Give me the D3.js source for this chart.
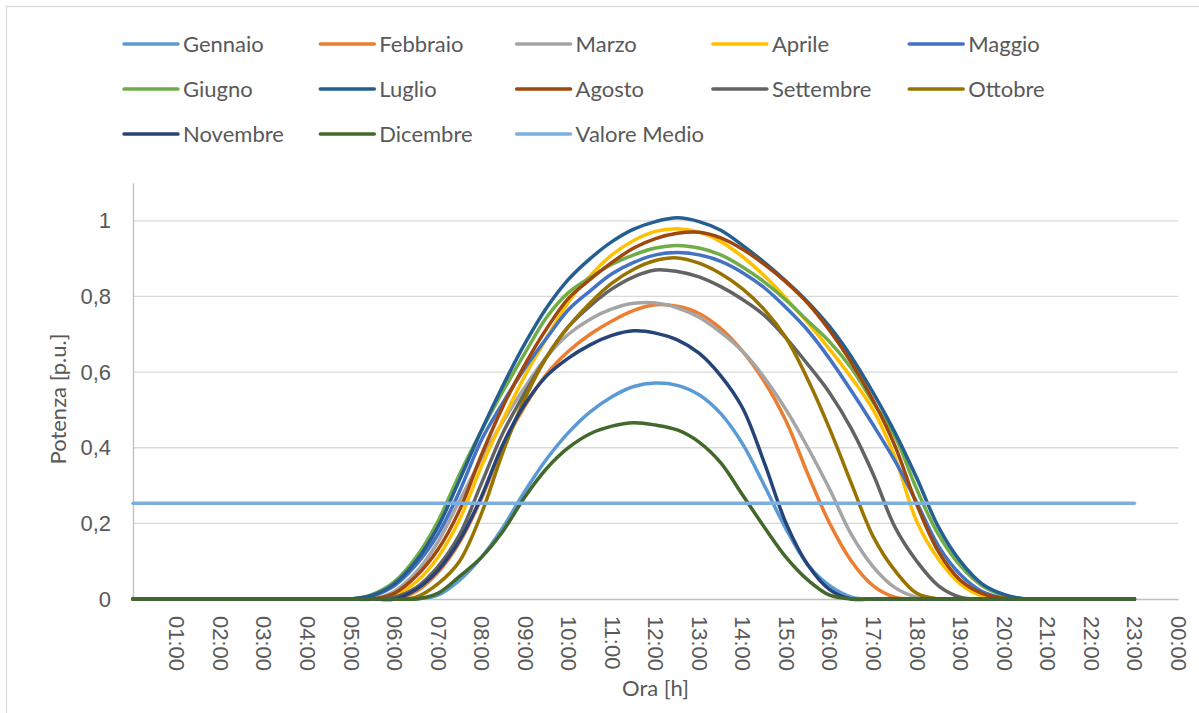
<!DOCTYPE html>
<html>
<head>
<meta charset="utf-8">
<script src="https://cdnjs.cloudflare.com/ajax/libs/d3/7.8.5/d3.min.js"></script>
<style>
  body { margin: 0; background: #fff; }
  svg { font-family: Lato, "Open Sans", sans-serif; }
</style>
</head>
<body>
<div id="chart"></div>
<script>
// ore del giorno (campioni)
var hours = [0, 4.5, 5, 5.5, 6, 6.5, 7, 7.5, 8, 8.5, 9, 9.5, 10, 10.5, 11, 11.5, 12, 12.5,
             13, 13.5, 14, 14.5, 15, 15.5, 16, 16.5, 17, 17.5, 18, 18.5, 19, 19.5, 20, 20.5, 21, 23];

var gennaio   = [0,0,0,0,0,0,0.01,0.05,0.11,0.19,0.285,0.37,0.44,0.495,0.535,0.562,0.571,0.565,0.54,0.49,0.41,0.3,0.185,0.09,0.035,0.005,0,0,0,0,0,0,0,0,0,0];
var febbraio  = [0,0,0,0,0,0.02,0.07,0.15,0.265,0.405,0.51,0.595,0.655,0.70,0.735,0.763,0.778,0.774,0.755,0.715,0.655,0.575,0.47,0.33,0.2,0.1,0.035,0.005,0,0,0,0,0,0,0,0];
var marzo     = [0,0,0,0,0.02,0.07,0.15,0.26,0.37,0.47,0.56,0.64,0.70,0.74,0.767,0.782,0.783,0.77,0.745,0.705,0.655,0.585,0.5,0.4,0.29,0.17,0.085,0.03,0.005,0,0,0,0,0,0,0];
var aprile    = [0,0,0,0,0.01,0.045,0.11,0.21,0.35,0.475,0.59,0.69,0.785,0.855,0.91,0.948,0.972,0.979,0.97,0.945,0.905,0.855,0.795,0.73,0.66,0.585,0.50,0.375,0.205,0.105,0.04,0.008,0,0,0,0];
var maggio    = [0,0,0,0.008,0.035,0.09,0.17,0.285,0.42,0.52,0.61,0.69,0.765,0.815,0.86,0.89,0.91,0.916,0.91,0.893,0.863,0.823,0.77,0.71,0.635,0.55,0.46,0.365,0.255,0.14,0.065,0.02,0.003,0,0,0];
var giugno    = [0,0,0,0.012,0.045,0.11,0.205,0.33,0.445,0.55,0.65,0.745,0.81,0.85,0.885,0.91,0.928,0.935,0.928,0.91,0.878,0.838,0.79,0.735,0.68,0.61,0.52,0.43,0.29,0.17,0.088,0.035,0.01,0,0,0];
var luglio    = [0,0,0,0.01,0.04,0.1,0.19,0.315,0.445,0.565,0.675,0.77,0.845,0.9,0.945,0.978,0.998,1.008,0.998,0.975,0.935,0.89,0.84,0.785,0.72,0.64,0.545,0.44,0.32,0.19,0.1,0.04,0.012,0,0,0];
var agosto    = [0,0,0,0,0.015,0.06,0.13,0.235,0.38,0.51,0.62,0.715,0.795,0.845,0.89,0.928,0.953,0.967,0.97,0.955,0.925,0.885,0.838,0.782,0.71,0.625,0.525,0.405,0.25,0.125,0.05,0.015,0.002,0,0,0];
var settembre = [0,0,0,0,0.005,0.03,0.085,0.17,0.305,0.44,0.545,0.64,0.72,0.775,0.82,0.852,0.87,0.866,0.852,0.826,0.792,0.75,0.69,0.62,0.545,0.45,0.33,0.19,0.10,0.035,0.005,0,0,0,0,0];
var ottobre   = [0,0,0,0,0,0.005,0.04,0.1,0.225,0.39,0.53,0.64,0.72,0.783,0.835,0.872,0.895,0.902,0.888,0.86,0.82,0.765,0.69,0.58,0.45,0.305,0.165,0.075,0.015,0,0,0,0,0,0,0];
var novembre  = [0,0,0,0,0,0.025,0.075,0.155,0.27,0.41,0.515,0.59,0.637,0.672,0.697,0.709,0.703,0.685,0.65,0.59,0.505,0.36,0.2,0.09,0.025,0,0,0,0,0,0,0,0,0,0,0];
var dicembre  = [0,0,0,0,0,0,0.015,0.06,0.11,0.18,0.27,0.345,0.40,0.437,0.457,0.466,0.46,0.447,0.415,0.36,0.275,0.19,0.11,0.05,0.01,0,0,0,0,0,0,0,0,0,0,0];
var valoreMedio = 0.253;

var names = ["Gennaio", "Febbraio", "Marzo", "Aprile", "Maggio", "Giugno", "Luglio",
             "Agosto", "Settembre", "Ottobre", "Novembre", "Dicembre", "Valore Medio"];
var colors = ["#5B9BD5", "#ED7D31", "#A5A5A5", "#FFC000", "#4472C4", "#70AD47", "#255E91",
              "#9E480E", "#636363", "#997300", "#264478", "#43682B", "#7CAFDD"];
var monthValues = [gennaio, febbraio, marzo, aprile, maggio, giugno, luglio,
                   agosto, settembre, ottobre, novembre, dicembre];

var yTicks = [0, 0.2, 0.4, 0.6, 0.8, 1];
var xTicks = d3.range(1, 25); // 01:00 ... 00:00

var W = 1199, H = 713;
var margin = {top: 183, right: 21, bottom: 114, left: 133};
var width = W - margin.left - margin.right,
    height = H - margin.top - margin.bottom;

var svg = d3.select("#chart").append("svg")
    .attr("width", W)
    .attr("height", H);

// bordo esterno (continua oltre il bordo destro e inferiore)
svg.append("rect")
    .attr("x", 6.5).attr("y", 6.5)
    .attr("width", 1210).attr("height", 720)
    .attr("fill", "#fff")
    .attr("stroke", "#d9d9d9")
    .attr("stroke-width", 1.3);

var g = svg.append("g")
    .attr("transform", "translate(" + margin.left + "," + margin.top + ")");

var x = d3.scaleLinear().domain([0, 24]).range([0, width]);
var y = d3.scaleLinear().domain([0, 1.1]).range([height, 0]);

// griglia
g.append("g")
    .selectAll("line")
    .data(yTicks.filter(function (d) { return d > 0; }))
    .enter().append("line")
    .attr("x1", 0).attr("x2", width)
    .attr("y1", function (d) { return y(d); })
    .attr("y2", function (d) { return y(d); })
    .attr("stroke", "#d9d9d9")
    .attr("stroke-width", 1.3);

// asse y
var yAxis = g.append("g")
    .call(d3.axisLeft(y).tickValues(yTicks).tickSize(0).tickPadding(22)
        .tickFormat(function (d) { return String(d).replace(".", ","); }));
yAxis.select(".domain").attr("stroke", "#bfbfbf").attr("stroke-width", 1.3);
yAxis.selectAll("text")
    .attr("fill", "#595959")
    .style("font-size", "22px");

// asse x
var xAxis = g.append("g")
    .attr("transform", "translate(0," + height + ")")
    .call(d3.axisBottom(x).tickValues(xTicks).tickSize(0)
        .tickFormat(function (d) { return d3.format("02")(d % 24) + ":00"; }));
xAxis.select(".domain").attr("stroke", "#bfbfbf").attr("stroke-width", 1.3);
xAxis.selectAll("text")
    .attr("fill", "#595959")
    .style("font-size", "22px")
    .attr("text-anchor", "start")
    .attr("dy", "0.35em")
    .attr("y", 0)
    .attr("transform", "translate(0,17) rotate(90)");

// titoli assi
svg.append("text")
    .attr("x", margin.left + width / 2)
    .attr("y", 696)
    .attr("text-anchor", "middle")
    .attr("fill", "#595959")
    .style("font-size", "22px")
    .text("Ora [h]");

svg.append("text")
    .attr("transform", "translate(66," + (margin.top + height / 2 + 8) + ") rotate(-90)")
    .attr("text-anchor", "middle")
    .attr("fill", "#595959")
    .style("font-size", "22px")
    .text("Potenza [p.u.]");

// curve
var line = d3.line()
    .x(function (d) { return x(d[0]); })
    .y(function (d) { return y(d[1]); })
    .curve(d3.curveCatmullRom.alpha(0.5));

monthValues.forEach(function (vals, i) {
    g.append("path")
        .datum(hours.map(function (h, k) { return [h, vals[k]]; }))
        .attr("fill", "none")
        .attr("stroke", colors[i])
        .attr("stroke-width", 3.5)
        .attr("stroke-linejoin", "round")
        .attr("stroke-linecap", "round")
        .attr("d", line);
});

g.append("path")
    .datum([[hours[0], valoreMedio], [hours[hours.length - 1], valoreMedio]])
    .attr("fill", "none")
    .attr("stroke", colors[12])
    .attr("stroke-width", 3.5)
    .attr("stroke-linecap", "round")
    .attr("d", line);

// legenda
var legend = svg.append("g");
var item = legend.selectAll("g")
    .data(names)
    .enter().append("g")
    .attr("transform", function (d, i) {
        return "translate(" + (124 + (i % 5) * 196.3) + "," + (44 + Math.floor(i / 5) * 45) + ")";
    });
item.append("line")
    .attr("x1", 0).attr("x2", 54)
    .attr("stroke", function (d, i) { return colors[i]; })
    .attr("stroke-width", 3.5)
    .attr("stroke-linecap", "round");
item.append("text")
    .attr("x", 59)
    .attr("dy", "0.35em")
    .attr("fill", "#595959")
    .style("font-size", "22px")
    .text(function (d) { return d; });
</script>
</body>
</html>
